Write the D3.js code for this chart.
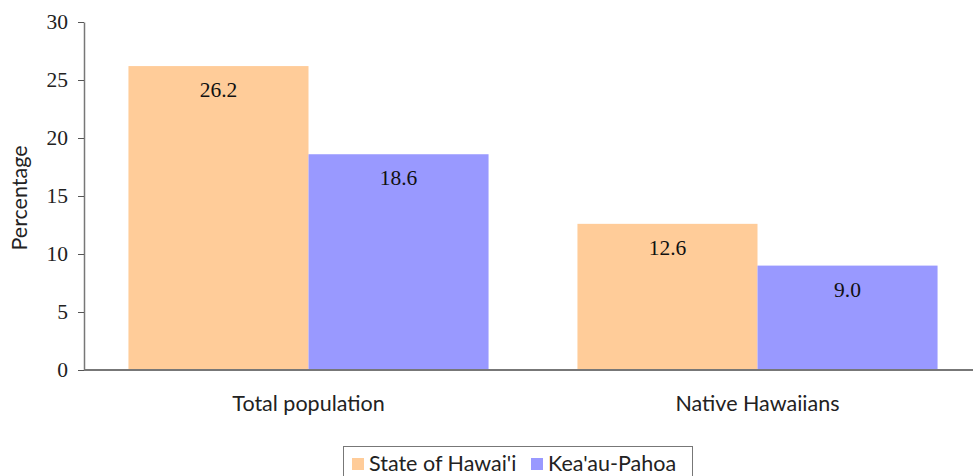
<!DOCTYPE html>
<html>
<head>
<meta charset="utf-8">
<script src="https://cdn.jsdelivr.net/npm/d3@7"></script>
<style>
  body { margin: 0; background: #fff; }
  svg { display: block; }
</style>
</head>
<body>
<div id="chart"></div>
<script>
let width = 973;
let height = 476;
let margin = ({top: 22, right: -9, bottom: 106, left: 84});

// data
let categories = ["Total population", "Native Hawaiians"];
let seriesNames = ["State of Hawai'i", "Kea'au-Pahoa"];
let stateValues = [26.2, 12.6];
let keaauValues = [18.6, 9.0];
let yTicks = [0, 5, 10, 15, 20, 25, 30];

let colors = d3.scaleOrdinal()
    .domain(seriesNames)
    .range(["#FFCC99", "#9999FF"]);

let rows = categories.map((c, i) => ({
    category: c,
    values: [
        {series: seriesNames[0], value: stateValues[i]},
        {series: seriesNames[1], value: keaauValues[i]}
    ]
}));

let svg = d3.select("#chart")
    .append("svg")
    .attr("width", width)
    .attr("height", height);

let x0 = d3.scaleBand()
    .domain(categories)
    .range([margin.left, width - margin.right])
    .paddingInner(0.198)
    .paddingOuter(0.099);

let x1 = d3.scaleBand()
    .domain(seriesNames)
    .range([0, x0.bandwidth()]);

let y = d3.scaleLinear()
    .domain([0, 30])
    .range([height - margin.bottom, margin.top]);

// bars
let groups = svg.selectAll(".group")
    .data(rows)
    .enter()
    .append("g")
    .attr("class", "group")
    .attr("transform", d => "translate(" + x0(d.category) + ",0)");

groups.selectAll("rect")
    .data(d => d.values)
    .enter()
    .append("rect")
    .attr("x", d => x1(d.series))
    .attr("y", d => y(d.value))
    .attr("width", x1.bandwidth())
    .attr("height", d => y(0) - y(d.value))
    .attr("fill", d => colors(d.series));

groups.selectAll(".val")
    .data(d => d.values)
    .enter()
    .append("text")
    .attr("class", "val")
    .attr("x", d => x1(d.series) + x1.bandwidth() / 2)
    .attr("y", d => y(d.value) + 31)
    .attr("text-anchor", "middle")
    .style("font-family", "'Liberation Serif', serif")
    .style("font-size", "21.5px")
    .style("fill", "#111")
    .text(d => d.value.toFixed(1));

// y axis
let yAxis = d3.axisLeft(y)
    .tickValues(yTicks)
    .tickSize(6)
    .tickSizeOuter(0)
    .tickPadding(10);

let gy = svg.append("g")
    .attr("transform", "translate(" + margin.left + ",0)")
    .call(yAxis);

gy.select(".domain").attr("stroke", "#777").attr("stroke-width", 1.5);
gy.selectAll(".tick line").attr("stroke", "#555");
gy.selectAll(".tick text")
    .style("font-family", "'Liberation Serif', serif")
    .style("font-size", "21.5px")
    .style("fill", "#222");

// x axis baseline
svg.append("line")
    .attr("x1", margin.left)
    .attr("x2", width)
    .attr("y1", y(0))
    .attr("y2", y(0))
    .attr("stroke", "#777")
    .attr("stroke-width", 2);

// category labels
svg.selectAll(".cat")
    .data(categories)
    .enter()
    .append("text")
    .attr("class", "cat")
    .attr("x", d => x0(d) + x0.bandwidth() / 2)
    .attr("y", 411)
    .attr("text-anchor", "middle")
    .style("font-family", "Lato, sans-serif")
    .style("font-size", "21.5px")
    .style("fill", "#222")
    .text(d => d);

// y axis title
svg.append("text")
    .attr("transform", "translate(27," + ((y(0) + y(30)) / 2 + 2) + ") rotate(-90)")
    .attr("text-anchor", "middle")
    .style("font-family", "Lato, sans-serif")
    .style("font-size", "21.5px")
    .style("fill", "#222")
    .text("Percentage");

// legend
let legend = svg.append("g").attr("transform", "translate(343,446)");
legend.append("rect")
    .attr("x", 0.5)
    .attr("y", 0.5)
    .attr("width", 349)
    .attr("height", 40)
    .attr("fill", "#fff")
    .attr("stroke", "#777");

let legendX = [9, 188];
let items = legend.selectAll(".item")
    .data(seriesNames)
    .enter()
    .append("g")
    .attr("class", "item")
    .attr("transform", (d, i) => "translate(" + legendX[i] + ",0)");

items.append("rect")
    .attr("x", 0)
    .attr("y", 12)
    .attr("width", 12)
    .attr("height", 12)
    .attr("fill", d => colors(d));

items.append("text")
    .attr("x", 17)
    .attr("y", 25)
    .style("font-family", "Lato, sans-serif")
    .style("font-size", "21.5px")
    .style("fill", "#222")
    .text(d => d);
</script>
</body>
</html>
